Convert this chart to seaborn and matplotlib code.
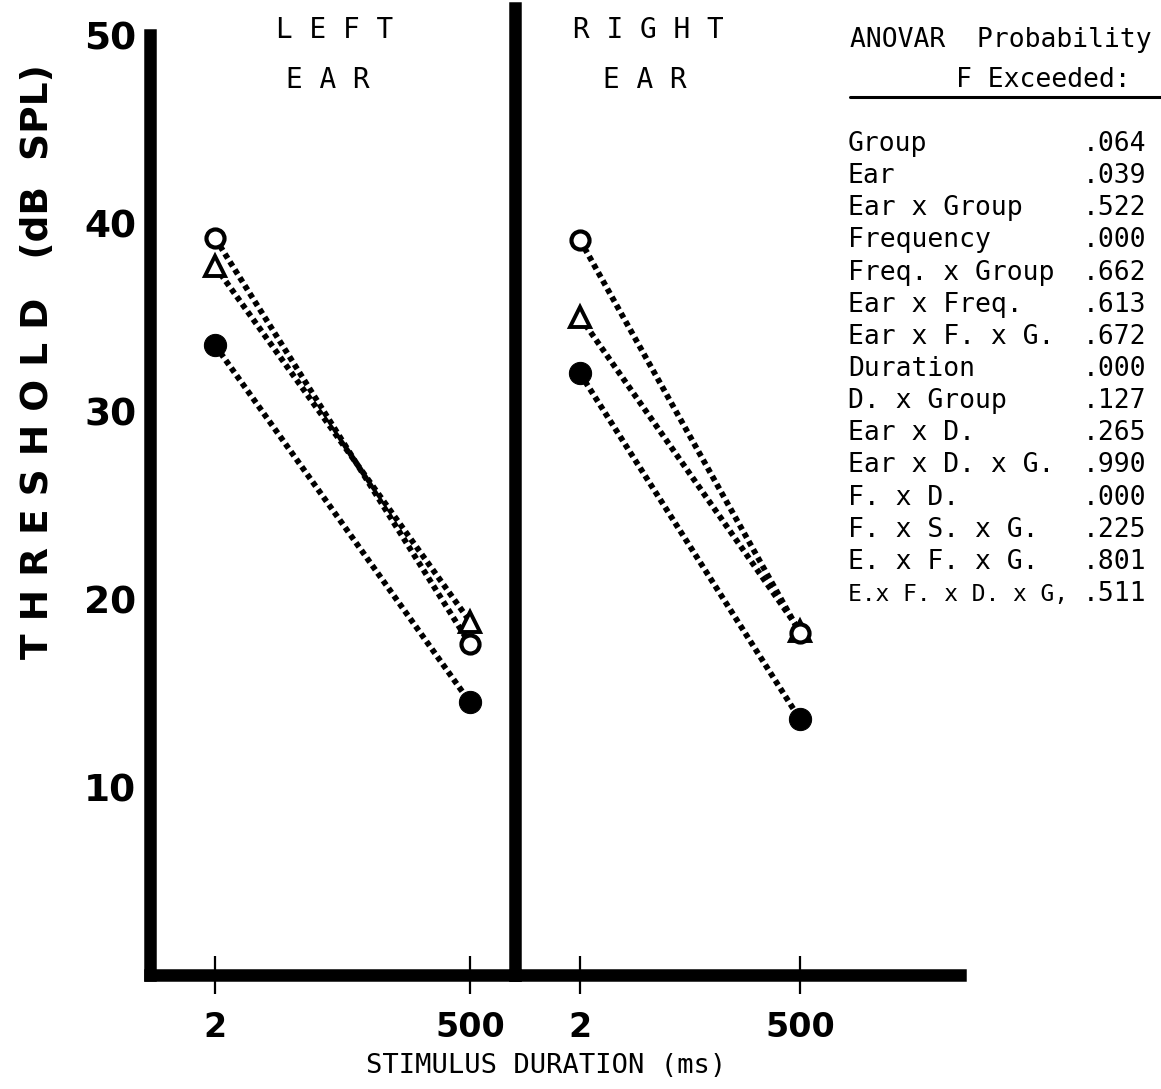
import matplotlib
matplotlib.use("Agg")
import matplotlib.pyplot as plt
import seaborn as sns
import pandas as pd

# ---- data ----
durations = ["2", "500"]
left_open_circle = [39.2, 17.6]
left_open_triangle = [37.7, 18.8]
left_filled_circle = [33.5, 14.5]
right_open_circle = [39.1, 18.2]
right_open_triangle = [35.0, 18.3]
right_filled_circle = [32.0, 13.6]

y_ticks = [10, 20, 30, 40, 50]

anova_terms = ["Group", "Ear", "Ear x Group", "Frequency", "Freq. x Group",
               "Ear x Freq.", "Ear x F. x G.", "Duration", "D. x Group",
               "Ear x D.", "Ear x D. x G.", "F. x D.", "F. x S. x G.",
               "E. x F. x G.", "E.x F. x D. x G,"]
anova_p = [".064", ".039", ".522", ".000", ".662", ".613", ".672", ".000",
           ".127", ".265", ".990", ".000", ".225", ".801", ".511"]

sns.set_style("white")
plt.rcParams['font.family'] = ['DejaVu Sans']
plt.rcParams['text.color'] = 'black'
plt.rcParams['xtick.color'] = 'black'
plt.rcParams['ytick.color'] = 'black'
plt.rcParams['xtick.labelcolor'] = 'black'
plt.rcParams['ytick.labelcolor'] = 'black'

W, H = 1161, 1089
fig = plt.figure(figsize=(W / 100, H / 100), dpi=100)

def fx(px):
    return px / W

def fy(py):
    return 1 - py / H

# axes geometry (pixels)
bottom_px = 975
pxu = (975 - 35) / 50.0
axL = fig.add_axes([fx(150), fy(bottom_px), fx(515 - 150), (bottom_px - 35) / H])
top_r = 8
axR = fig.add_axes([fx(515), fy(bottom_px), fx(960 - 515), (bottom_px - top_r) / H])

pos = [0, 1]

def draw(ax, oc, ot, fc):
    line_kw = dict(color="black", linewidth=4.2, linestyle=(0, (0.9, 0.7)),
                   dash_capstyle="butt", legend=False)
    df = pd.DataFrame({"x": pos, "y": fc})
    sns.lineplot(data=df, x="x", y="y", ax=ax, marker="o", markersize=16,
                 markerfacecolor="black", markeredgecolor="black", **line_kw)
    df = pd.DataFrame({"x": pos, "y": ot})
    sns.lineplot(data=df, x="x", y="y", ax=ax, marker="^", markersize=14,
                 markerfacecolor="white", markeredgecolor="black",
                 markeredgewidth=2.8, **line_kw)
    df = pd.DataFrame({"x": pos, "y": oc})
    sns.lineplot(data=df, x="x", y="y", ax=ax, marker="o", markersize=13,
                 markerfacecolor="white", markeredgecolor="black",
                 markeredgewidth=3.0, **line_kw)

draw(axL, left_open_circle, left_open_triangle, left_filled_circle)
draw(axR, right_open_circle, right_open_triangle, right_filled_circle)

axL.set_ylim(0, 50)
axL.set_xlim(-65 / 255, 1 + 45 / 255)
axR.set_ylim(0, 50 + (35 - top_r) / pxu)
axR.set_xlim(-65 / 220, 1 + 160 / 220)

for ax in (axL, axR):
    ax.set_facecolor("white")
    for s in ("top", "right"):
        ax.spines[s].set_visible(False)
    for s in ("left", "bottom"):
        ax.spines[s].set_linewidth(9)
        ax.spines[s].set_color("black")
        ax.spines[s].set_capstyle("projecting")
    ax.set_xlabel("")
    ax.set_ylabel("")
    ax.set_xticks(pos)
    ax.set_xticklabels(durations, fontsize=24, fontweight="bold", color="black")
    ax.tick_params(axis="x", bottom=True, direction="inout", length=28,
                   width=1.6, color="black", pad=12)
    ax.patch.set_alpha(0)

axL.set_yticks(y_ticks)
axL.set_yticklabels([str(v) for v in y_ticks], fontsize=27, fontweight="bold",
                    color="black")
axL.tick_params(axis="y", left=False, length=0, pad=10)
axR.set_yticks([])

# panel titles
title_kw = dict(fontsize=20, ha="center", va="center", family="DejaVu Sans Mono")
fig.text(fx(335), fy(30), "L E F T", **title_kw)
fig.text(fx(328), fy(80), "E A R", **title_kw)
fig.text(fx(648), fy(30), "R I G H T", **title_kw)
fig.text(fx(645), fy(80), "E A R", **title_kw)

# axis labels
fig.text(fx(38), fy(362), "T H R E S H O L D   (dB  SPL)", rotation=90,
         fontsize=27, fontweight="bold", ha="center", va="center")
fig.text(fx(546), fy(1066), "STIMULUS DURATION (ms)", fontsize=19.5,
         ha="center", va="center", family="DejaVu Sans Mono")

# ANOVA table
tab_kw = dict(family="DejaVu Sans Mono", va="center")
fig.text(fx(850), fy(40), "ANOVAR  Probability", ha="left", fontsize=19, **tab_kw)
fig.text(fx(1043), fy(80), "F Exceeded:", ha="center", fontsize=19, **tab_kw)
fig.add_artist(plt.Line2D([fx(850), fx(1161)], [fy(97), fy(97)],
                          color="black", linewidth=2.2))
row0 = 144
step = (594 - 144) / (len(anova_terms) - 1)
for i, (term, p) in enumerate(zip(anova_terms, anova_p)):
    y = fy(row0 + i * step)
    fs_term = 19 if len(term) <= 14 else 16.5
    fig.text(fx(848), y, term, ha="left", fontsize=fs_term, **tab_kw)
    fig.text(fx(1146), y, p, ha="right", fontsize=19, **tab_kw)

fig.savefig("out.png", dpi=100, facecolor="white")
